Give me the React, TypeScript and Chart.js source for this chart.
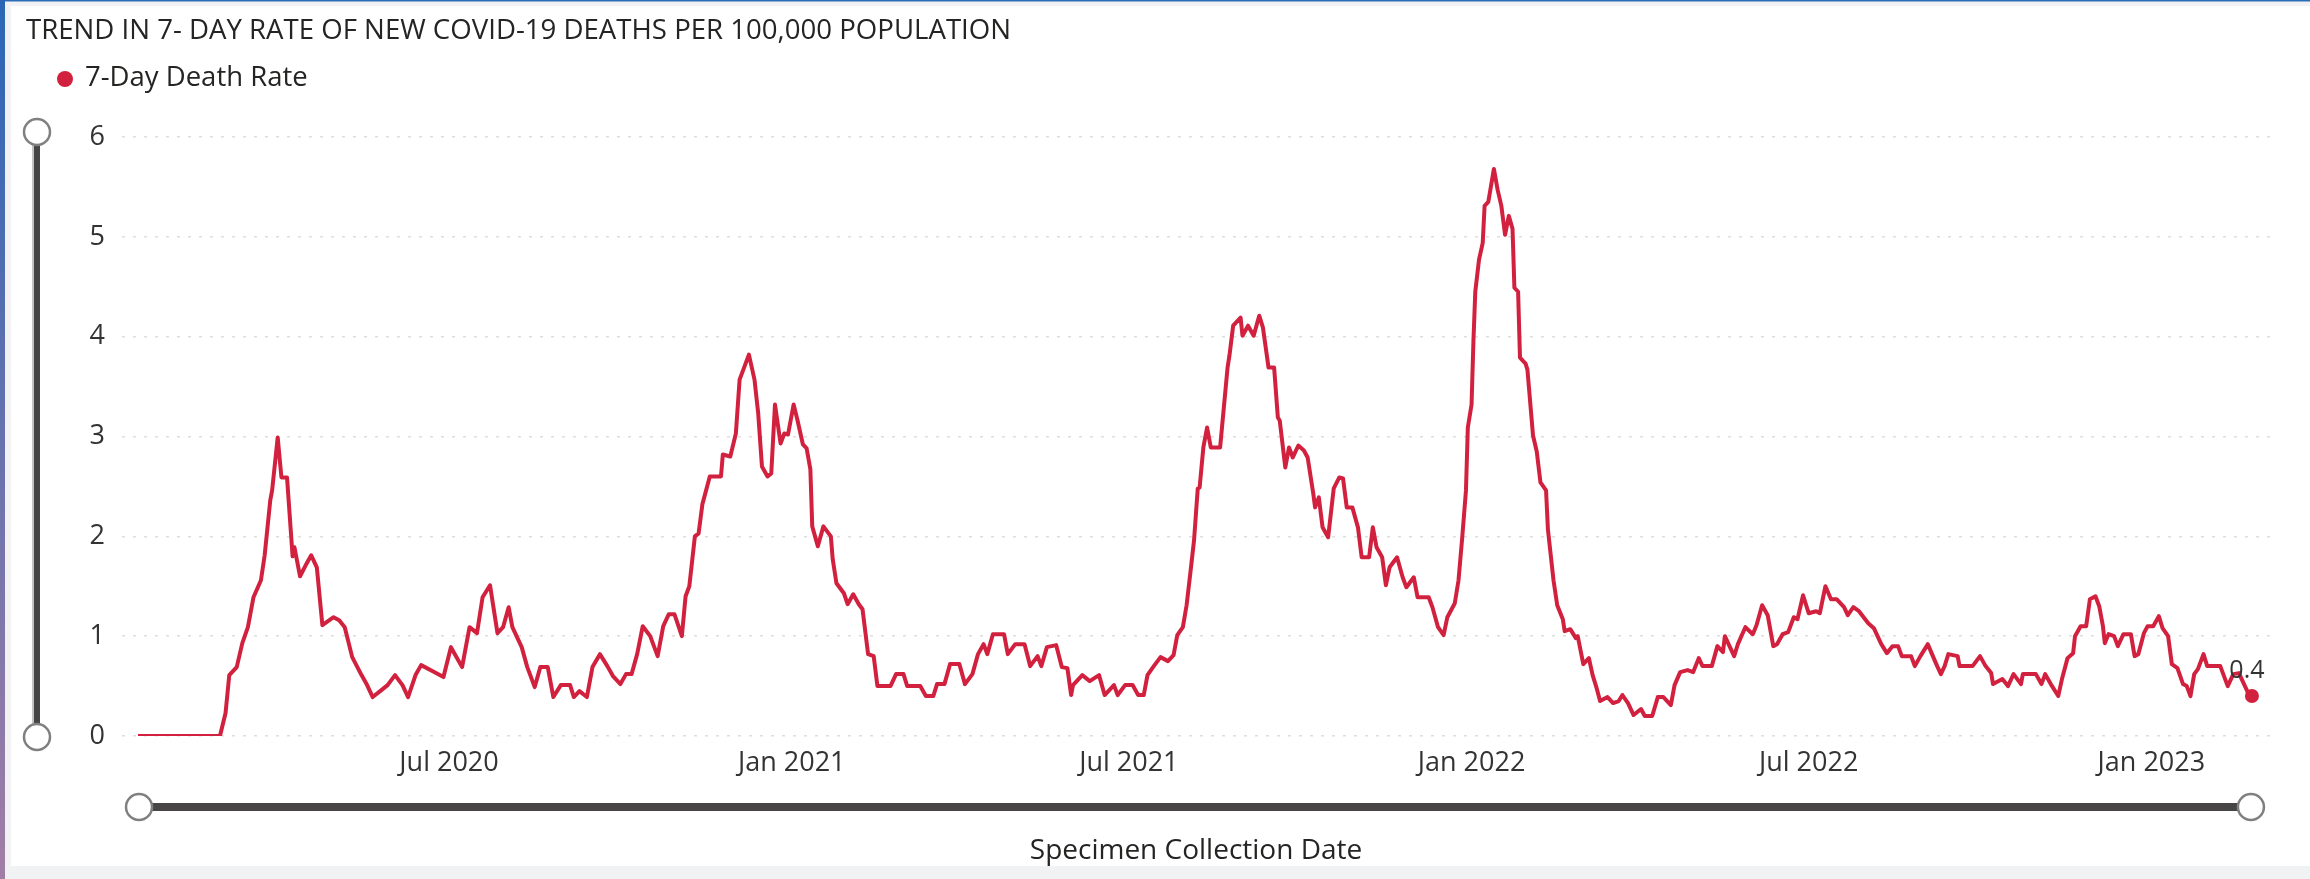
import React, { useEffect, useRef } from "react";
import { Chart, registerables } from "chart.js";

Chart.register(...registerables);

// days since 2020-01-01 (specimen collection date)
const dayOffsets: number[] = [
  15, 59, 62, 64, 68, 71, 74, 77, 81, 83, 86, 87, 90, 92, 95, 98, 99, 102, 105, 108,
  111, 114, 120, 123, 126, 130, 135, 138, 141, 145, 149, 153, 157, 160, 164, 167, 173, 179, 183, 189,
  193, 197, 200, 204, 208, 211, 214, 216, 221, 224, 228, 231, 235, 238, 242, 247, 249, 252, 256, 259,
  263, 267, 270, 274, 277, 280, 283, 286, 290, 294, 297, 300, 303, 307, 309, 311, 314, 316, 318, 322,
  328, 329, 333, 336, 338, 343, 346, 348, 350, 353, 355, 357, 360, 362, 364, 367, 369, 372, 374, 376,
  377, 380, 383, 387, 388, 390, 394, 396, 399, 402, 404, 407, 410, 412, 419, 422, 426, 428, 435, 438,
  442, 444, 448, 451, 456, 459, 463, 466, 469, 471, 474, 480, 482, 486, 491, 494, 498, 500, 503, 508,
  511, 514, 516, 517, 522, 526, 531, 534, 539, 541, 545, 549, 552, 555, 557, 560, 564, 568, 571, 573,
  576, 578, 580, 582, 584, 585, 587, 589, 591, 596, 598, 600, 601, 603, 607, 608, 611, 614, 617, 619,
  622, 625, 627, 628, 631, 633, 635, 638, 641, 643, 646, 647, 649, 651, 654, 657, 660, 662, 664, 667,
  670, 672, 676, 678, 680, 683, 685, 687, 691, 694, 696, 700, 702, 708, 710, 713, 716, 718, 722, 724,
  726, 728, 729, 731, 732, 733, 735, 737, 738, 740, 743, 745, 747, 749, 751, 753, 754, 756, 757, 760,
  761, 764, 766, 768, 771, 772, 775, 777, 780, 781, 784, 787, 788, 791, 794, 796, 798, 800, 804, 807,
  810, 812, 815, 818, 822, 824, 828, 831, 834, 838, 840, 843, 847, 850, 853, 855, 860, 863, 866, 867,
  870, 872, 874, 878, 882, 884, 887, 890, 893, 895, 898, 901, 904, 906, 909, 912, 916, 918, 921, 924,
  927, 931, 933, 936, 939, 944, 947, 951, 954, 957, 960, 962, 967, 969, 972, 976, 978, 981, 983, 985,
  987, 992, 993, 1000, 1004, 1007, 1010, 1011, 1016, 1019, 1022, 1026, 1027, 1034, 1037, 1039, 1042, 1046, 1048, 1051,
  1054, 1055, 1058, 1061, 1063, 1066, 1068, 1070, 1071, 1073, 1076, 1078, 1081, 1085, 1087, 1089, 1092, 1094, 1097, 1100,
  1102, 1105, 1107, 1110, 1113, 1115, 1117, 1119, 1121, 1124, 1126, 1133, 1137, 1140, 1143, 1145, 1148, 1150,
];

// 7-day death rate per 100,000
const deathRates: number[] = [
  0, 0, 0.23, 0.61, 0.69, 0.93, 1.09, 1.39, 1.56, 1.81, 2.36, 2.46, 2.99, 2.59, 2.59, 1.8, 1.89, 1.6, 1.71, 1.81,
  1.69, 1.11, 1.19, 1.16, 1.09, 0.79, 0.61, 0.51, 0.39, 0.45, 0.51, 0.61, 0.51, 0.39, 0.61, 0.71, 0.65, 0.59, 0.89, 0.69,
  1.09, 1.03, 1.39, 1.51, 1.03, 1.09, 1.29, 1.09, 0.89, 0.69, 0.49, 0.69, 0.69, 0.39, 0.51, 0.51, 0.39, 0.45, 0.39, 0.69,
  0.82, 0.7, 0.6, 0.52, 0.62, 0.62, 0.82, 1.1, 1.0, 0.8, 1.1, 1.22, 1.22, 1.0, 1.4, 1.5, 2.0, 2.03, 2.32, 2.6,
  2.6, 2.82, 2.8, 3.03, 3.57, 3.82, 3.57, 3.23, 2.7, 2.6, 2.63, 3.32, 2.93, 3.03, 3.02, 3.32, 3.17, 2.92, 2.88, 2.67,
  2.1, 1.9, 2.1, 2.0, 1.77, 1.53, 1.43, 1.32, 1.42, 1.32, 1.27, 0.82, 0.8, 0.5, 0.5, 0.62, 0.62, 0.5, 0.5, 0.4,
  0.4, 0.52, 0.52, 0.72, 0.72, 0.52, 0.62, 0.82, 0.92, 0.82, 1.02, 1.02, 0.82, 0.92, 0.92, 0.7, 0.8, 0.7, 0.89, 0.91,
  0.69, 0.68, 0.41, 0.51, 0.61, 0.55, 0.61, 0.41, 0.51, 0.41, 0.51, 0.51, 0.41, 0.41, 0.61, 0.69, 0.79, 0.75, 0.81, 1.01,
  1.09, 1.31, 1.63, 1.96, 2.48, 2.49, 2.89, 3.09, 2.89, 2.89, 3.29, 3.69, 3.81, 4.11, 4.19, 4.01, 4.11, 4.01, 4.21, 4.09,
  3.69, 3.69, 3.19, 3.16, 2.69, 2.89, 2.79, 2.91, 2.86, 2.79, 2.43, 2.29, 2.39, 2.09, 1.99, 2.48, 2.59, 2.58, 2.29, 2.29,
  2.09, 1.79, 1.79, 2.09, 1.89, 1.79, 1.51, 1.69, 1.79, 1.59, 1.49, 1.59, 1.39, 1.39, 1.29, 1.09, 1.01, 1.19, 1.33, 1.56,
  1.99, 2.46, 3.09, 3.32, 3.95, 4.45, 4.77, 4.94, 5.31, 5.35, 5.68, 5.47, 5.31, 5.02, 5.21, 5.08, 4.49, 4.45, 3.79, 3.73,
  3.67, 3.01, 2.85, 2.54, 2.46, 2.07, 1.56, 1.31, 1.17, 1.05, 1.07, 0.98, 1.0, 0.72, 0.78, 0.61, 0.49, 0.35, 0.39, 0.33,
  0.35, 0.41, 0.33, 0.21, 0.27, 0.2, 0.2, 0.39, 0.39, 0.31, 0.51, 0.64, 0.66, 0.64, 0.78, 0.7, 0.7, 0.9, 0.84, 1.0,
  0.88, 0.8, 0.92, 1.09, 1.02, 1.11, 1.31, 1.21, 0.9, 0.92, 1.02, 1.04, 1.19, 1.17, 1.41, 1.23, 1.25, 1.23, 1.5, 1.37,
  1.37, 1.29, 1.21, 1.29, 1.25, 1.13, 1.08, 0.92, 0.83, 0.9, 0.9, 0.8, 0.8, 0.7, 0.8, 0.92, 0.83, 0.7, 0.62, 0.7,
  0.82, 0.8, 0.7, 0.7, 0.8, 0.7, 0.63, 0.52, 0.57, 0.5, 0.62, 0.52, 0.62, 0.62, 0.52, 0.62, 0.52, 0.4, 0.57, 0.78,
  0.83, 1.0, 1.1, 1.1, 1.37, 1.4, 1.3, 1.1, 0.93, 1.02, 1.0, 0.9, 1.02, 1.02, 0.8, 0.82, 1.03, 1.1, 1.1, 1.2,
  1.08, 1.0, 0.72, 0.68, 0.52, 0.5, 0.4, 0.62, 0.67, 0.82, 0.7, 0.7, 0.5, 0.62, 0.63, 0.55, 0.43, 0.4,
];

// x-axis ticks (days since 2020-01-01) and their labels
const tickDays: number[] = [182, 366, 547, 731, 912, 1096];
const tickLabels: string[] = ["Jul 2020", "Jan 2021", "Jul 2021", "Jan 2022", "Jul 2022", "Jan 2023"];
const yTicks: number[] = [0, 1, 2, 3, 4, 5, 6];

const chartTitle = "TREND IN 7- DAY RATE OF NEW COVID-19 DEATHS PER 100,000 POPULATION";
const seriesName = "7-Day Death Rate";
const xAxisTitle = "Specimen Collection Date";

const FONT = '"Open Sans", "Noto Sans", sans-serif';
const RED = "#d2213e";

function drawKnob(ctx: CanvasRenderingContext2D, x: number, y: number) {
  ctx.beginPath();
  ctx.arc(x, y, 13, 0, Math.PI * 2);
  ctx.fillStyle = "#ffffff";
  ctx.fill();
  ctx.lineWidth = 2.5;
  ctx.strokeStyle = "#808080";
  ctx.stroke();
}

const decorPlugin = {
  id: "decor",
  beforeDraw(chart: any) {
    const { ctx, width, height } = chart;
    ctx.save();
    ctx.fillStyle = "#ffffff";
    ctx.fillRect(0, 0, width, height);
    ctx.fillStyle = "#f2f2f4";
    ctx.fillRect(0, 0, width, 6);
    ctx.fillRect(0, 0, 11, height);
    ctx.fillStyle = "#2b6cb8";
    ctx.fillRect(0, 0, width, 1.5);
    const g = ctx.createLinearGradient(0, 0, 0, height);
    g.addColorStop(0, "#2a66b6");
    g.addColorStop(1, "#a27ea6");
    ctx.fillStyle = g;
    ctx.fillRect(0, 0, 5, height);
    ctx.fillStyle = "#f1f2f4";
    ctx.fillRect(5, 866, width - 5, height - 866);
    ctx.restore();
  },
  afterDraw(chart: any) {
    const { ctx } = chart;
    const xs = chart.scales.x;
    const ys = chart.scales.y;
    ctx.save();

    // vertical range slider
    const vTop = ys.getPixelForValue(yTicks[yTicks.length - 1]) - 5;
    const vBot = ys.getPixelForValue(yTicks[0]) + 1;
    ctx.fillStyle = "#c4c4c4";
    ctx.fillRect(32, vTop, 2, vBot - vTop);
    ctx.fillStyle = "#454545";
    ctx.fillRect(34, vTop, 6, vBot - vTop);
    drawKnob(ctx, 37, vTop);
    drawKnob(ctx, 37, vBot);

    // horizontal range slider
    const hL = xs.getPixelForValue(dayOffsets[0]) + 1;
    const hR = xs.getPixelForValue(dayOffsets[dayOffsets.length - 1]) - 1;
    ctx.fillStyle = "#474545";
    ctx.fillRect(hL, 803, hR - hL, 8);
    drawKnob(ctx, hL, 807);
    drawKnob(ctx, hR, 807);

    // title
    ctx.fillStyle = "#252423";
    ctx.font = `27.6px ${FONT}`;
    ctx.textAlign = "left";
    ctx.textBaseline = "alphabetic";
    ctx.fillText(chartTitle, 26, 39);

    // legend
    ctx.beginPath();
    ctx.arc(65, 79, 8, 0, Math.PI * 2);
    ctx.fillStyle = RED;
    ctx.fill();
    ctx.fillStyle = "#252423";
    ctx.font = `27.5px ${FONT}`;
    ctx.fillText(seriesName, 85, 86);

    // data label on last point
    const meta = chart.getDatasetMeta(0);
    const last = meta.data[meta.data.length - 1];
    if (last) {
      ctx.font = `25px ${FONT}`;
      ctx.fillStyle = "#333333";
      ctx.textAlign = "center";
      ctx.textBaseline = "middle";
      ctx.fillText(deathRates[deathRates.length - 1].toFixed(1), last.x - 5, last.y - 25);
    }
    ctx.restore();
  },
};

export default function App() {
  const ref = useRef<HTMLCanvasElement | null>(null);
  useEffect(() => {
    if (!ref.current) return;
    const points = dayOffsets.map((d, i) => ({ x: d, y: deathRates[i] }));
    const lastIdx = points.length - 1;
    const chart = new Chart(ref.current, {
      type: "line",
      data: {
        datasets: [
          {
            label: seriesName,
            data: points,
            borderColor: RED,
            backgroundColor: RED,
            borderWidth: 4,
            borderJoinStyle: "round",
            tension: 0,
            pointRadius: (c: any) => (c.dataIndex === lastIdx ? 7 : 0),
            pointBackgroundColor: RED,
            pointBorderWidth: 0,
            fill: false,
          },
        ],
      },
      options: {
        responsive: false,
        animation: false,
        devicePixelRatio: 1,
        events: [],
        layout: { padding: { top: 137, right: 40, bottom: 0, left: 0 } },
        plugins: {
          legend: { display: false },
          title: { display: false },
          tooltip: { enabled: false },
        },
        scales: {
          x: {
            type: "linear",
            min: 6.4,
            max: 1159.7,
            afterBuildTicks: (s: any) => {
              s.ticks = tickDays.map((v) => ({ value: v }));
            },
            afterFit: (s: any) => {
              s.height = 143;
            },
            grid: { display: false, drawTicks: false },
            border: { display: false },
            ticks: {
              autoSkip: false,
              maxRotation: 0,
              padding: 11,
              color: "#333333",
              font: { family: FONT, size: 27 },
              callback: (_v: any, i: number) => tickLabels[i],
            },
            title: {
              display: true,
              text: xAxisTitle,
              color: "#252423",
              font: { family: FONT, size: 28 },
              padding: { top: 0, bottom: 11 },
            },
          },
          y: {
            min: 0,
            max: 6,
            afterFit: (s: any) => {
              s.width = 122;
            },
            afterBuildTicks: (s: any) => {
              s.ticks = yTicks.map((v) => ({ value: v }));
            },
            grid: { color: "#dedede", lineWidth: 1.5, drawTicks: false },
            border: { display: false, dash: [3, 8] },
            ticks: {
              padding: 17,
              color: "#333333",
              font: { family: FONT, size: 27 },
            },
          },
        },
      },
      plugins: [decorPlugin],
    });
    return () => chart.destroy();
  }, []);
  return (
    <div style={{ position: "fixed", left: 0, top: 0, width: 2310, height: 879, background: "#fff" }}>
      <canvas ref={ref} width={2310} height={879} style={{ display: "block", width: 2310, height: 879 }} />
    </div>
  );
}
